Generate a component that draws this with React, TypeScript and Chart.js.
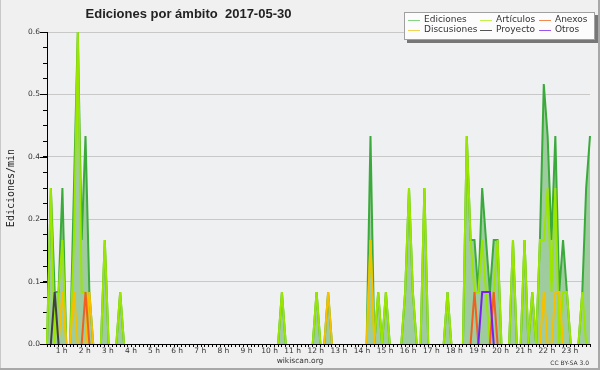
import React, { useEffect, useRef } from "react";
import { Chart, registerables } from "chart.js";

Chart.register(...registerables);

// 10-minute buckets from 00:00 to 23:30
const timeLabels: string[] = Array.from({ length: 142 }, (_, i) =>
  `${String(Math.floor(i / 6)).padStart(2, "0")}:${String((i % 6) * 10).padStart(2, "0")}`
);

const hourTickLabels = [
  "1 h", "2 h", "3 h", "4 h", "5 h", "6 h", "7 h", "8 h", "9 h", "10 h", "11 h", "12 h",
  "13 h", "14 h", "15 h", "16 h", "17 h", "18 h", "19 h", "20 h", "21 h", "22 h", "23 h",
];

const yTickValues = [
  0, 0.03, 0.06, 0.09, 0.12, 0.15, 0.18, 0.21, 0.24, 0.27, 0.3,
  0.33, 0.36, 0.39, 0.42, 0.45, 0.48, 0.51, 0.54, 0.57, 0.6,
];
const yTickLabels = ["0.0", "0.1", "0.2", "0.4", "0.5", "0.6"];

// Ediciones (total), edits/min per 10-minute bucket
const ediciones = [
  0, 0.3, 0.1, 0.1, 0.3, 0, 0, 0.3, 0.6, 0.2,
  0.4, 0.1, 0, 0, 0, 0.2, 0, 0, 0, 0.1,
  0, 0, 0, 0, 0, 0, 0, 0, 0, 0,
  0, 0, 0, 0, 0, 0, 0, 0, 0, 0,
  0, 0, 0, 0, 0, 0, 0, 0, 0, 0,
  0, 0, 0, 0, 0, 0, 0, 0, 0, 0,
  0, 0.1, 0, 0, 0, 0, 0, 0, 0, 0,
  0.1, 0, 0, 0.1, 0, 0, 0, 0, 0, 0,
  0, 0, 0, 0, 0.4, 0, 0.1, 0, 0.1, 0,
  0, 0, 0, 0.1, 0.3, 0.1, 0, 0, 0.3, 0,
  0, 0, 0, 0, 0.1, 0, 0, 0, 0, 0.4,
  0.2, 0.2, 0.1, 0.3, 0.2, 0.1, 0.2, 0.2, 0, 0,
  0, 0.2, 0, 0, 0.2, 0, 0.1, 0, 0.2, 0.5,
  0.4, 0.2, 0.4, 0.1, 0.2, 0.1, 0, 0, 0, 0.1,
  0.3, 0.4,
];

const articulos = [
  0, 0.3, 0, 0.1, 0.2, 0, 0, 0.2, 0.6, 0.1,
  0.1, 0, 0, 0, 0, 0.2, 0, 0, 0, 0.1,
  0, 0, 0, 0, 0, 0, 0, 0, 0, 0,
  0, 0, 0, 0, 0, 0, 0, 0, 0, 0,
  0, 0, 0, 0, 0, 0, 0, 0, 0, 0,
  0, 0, 0, 0, 0, 0, 0, 0, 0, 0,
  0, 0.1, 0, 0, 0, 0, 0, 0, 0, 0,
  0.1, 0, 0, 0, 0, 0, 0, 0, 0, 0,
  0, 0, 0, 0, 0.2, 0, 0.1, 0, 0.1, 0,
  0, 0, 0, 0.1, 0.3, 0.1, 0, 0, 0.3, 0,
  0, 0, 0, 0, 0.1, 0, 0, 0, 0, 0.4,
  0.2, 0.1, 0.1, 0.2, 0.1, 0, 0.1, 0.2, 0, 0,
  0, 0.2, 0, 0, 0.2, 0, 0.1, 0, 0.2, 0.2,
  0.3, 0.1, 0.3, 0, 0.1, 0.1, 0, 0, 0, 0.1,
  0, 0,
];

// sparse series: [bucket index, value]
const anexosPoints: [number, number][] = [[10, 0.1], [111, 0.1], [116, 0.1]];
const discusionesPoints: [number, number][] = [
  [4, 0.1], [7, 0.1], [11, 0.1], [73, 0.1], [84, 0.2], [129, 0.1], [132, 0.1], [133, 0.1],
];
const proyectoPoints: [number, number][] = [[2, 0.1]];
const otrosPoints: [number, number][] = [[113, 0.1], [114, 0.1], [115, 0.1]];

const expand = (pts: [number, number][]) => {
  const arr = timeLabels.map(() => 0);
  pts.forEach(([i, v]) => { arr[i] = v; });
  return arr;
};

const legendItems = [
  { label: "Ediciones", color: "#86d486", x: 408, y: 19.5 },
  { label: "Artículos", color: "#c6f04a", x: 480, y: 19.5 },
  { label: "Anexos", color: "#f08a50", x: 539, y: 19.5 },
  { label: "Discusiones", color: "#f2d454", x: 408, y: 29.5 },
  { label: "Proyecto", color: "#555555", x: 480, y: 29.5 },
  { label: "Otros", color: "#9a55f0", x: 539, y: 29.5 },
];

const hideFlat = {
  borderColor: (ctx: any) =>
    ctx.p0.parsed.y === 0 && ctx.p1.parsed.y === 0 ? "rgba(0,0,0,0)" : undefined,
};

const bgPlugin = {
  id: "plotBg",
  beforeDraw(chart: any) {
    const { ctx, chartArea: a } = chart;
    ctx.save();
    ctx.fillStyle = "#eef0f2";
    ctx.fillRect(a.left, a.top, a.right - a.left, a.bottom - a.top);
    ctx.restore();
  },
  afterDraw(chart: any) {
    const y = chart.scales.y;
    const ctx = chart.ctx;
    const left = chart.chartArea.left;
    ctx.save();
    ctx.strokeStyle = "#000";
    ctx.lineWidth = 1;
    yTickValues.forEach((v, i) => {
      if (i % 4 !== 0) return;
      const py = Math.round(y.getPixelForValue(v)) + 0.5;
      ctx.beginPath();
      ctx.moveTo(left - 7, py);
      ctx.lineTo(left, py);
      ctx.stroke();
    });
    ctx.restore();
  },
};

export default function App() {
  const ref = useRef<HTMLCanvasElement>(null);

  useEffect(() => {
    if (!ref.current) return;
    const mk = (label: string, data: number[], color: string, order: number, width: number, extra: any = {}) => ({
      label, data, borderColor: color, borderWidth: width, order, pointRadius: 0,
      tension: 0, fill: false, segment: hideFlat, ...extra,
    });
    const chart = new Chart(ref.current, {
      type: "line",
      data: {
        labels: timeLabels,
        datasets: [
          mk("Ediciones", ediciones, "#3aaa3a", 6, 2, { fill: "origin", backgroundColor: "#9fcc9f" }),
          mk("Artículos", articulos, "#9be600", 5, 2),
          mk("Discusiones", expand(discusionesPoints), "#f4c000", 4, 2),
          mk("Anexos", expand(anexosPoints), "#f06020", 3, 2),
          mk("Proyecto", expand(proyectoPoints), "#404040", 2, 2),
          mk("Otros", expand(otrosPoints), "#7a1ff0", 1, 2),
        ] as any,
      },
      options: {
        animation: false,
        responsive: false,
        layout: { padding: { top: 32, right: 10, left: 0, bottom: 0 } },
        plugins: { legend: { display: false }, tooltip: { enabled: false }, title: { display: false } },
        scales: {
          x: {
            type: "category",
            offset: false,
            grid: { drawOnChartArea: false, tickLength: 3, tickColor: "#000" },
            border: { color: "#000", width: 1 },
            ticks: {
              autoSkip: false, maxRotation: 0, minRotation: 0, labelOffset: -8.5, padding: 0,
              color: "#333", font: { family: "DejaVu Sans", size: 7.5 },
              callback: (_v: any, i: number) => (i % 6 === 0 && i > 0 ? hourTickLabels[i / 6 - 1] : ""),
            },
            afterFit: (s: any) => { s.height = 26; },
          },
          y: {
            type: "linear", min: 0, max: 0.6,
            afterBuildTicks: (s: any) => { s.ticks = yTickValues.map((v) => ({ value: v })); },
            grid: {
              color: (ctx: any) => (ctx.index % 4 === 0 && ctx.index > 0 ? "#c8c8c8" : "rgba(0,0,0,0)"),
              tickColor: "#000", tickLength: 4,
            },
            border: { color: "#000", width: 1 },
            ticks: {
              autoSkip: false, padding: 3, color: "#333", font: { family: "DejaVu Sans", size: 7.5 },
              callback: (_v: any, i: number) => (i % 4 === 0 ? yTickLabels[i / 4] : ""),
            },
            afterFit: (s: any) => { s.width = 47; },
          },
        },
      } as any,
      plugins: [bgPlugin],
    });
    return () => chart.destroy();
  }, []);

  return (
    <div style={{ position: "fixed", left: 0, top: 0, width: 600, height: 370, background: "#f0f0f0", overflow: "hidden" }}>
      <canvas ref={ref} width={600} height={370} style={{ position: "absolute", left: 0, top: 0, width: 600, height: 370 }} />
      <div style={{ position: "absolute", left: 0, top: 7, width: 377, textAlign: "center", font: "bold 13px 'Liberation Sans', Arial, sans-serif", lineHeight: "13px", color: "#222", whiteSpace: "pre" }}>
        {"Ediciones por ámbito  2017-05-30"}
      </div>
      <div style={{ position: "absolute", left: 10, top: 188, transform: "translate(-50%, -50%) rotate(-90deg)", font: "10px 'DejaVu Sans Mono', monospace", color: "#222", whiteSpace: "nowrap" }}>
        Ediciones/min
      </div>
      <div style={{ position: "absolute", left: 404, top: 12, width: 189, height: 26, background: "#fcfcfc", border: "1px solid #a0a0a0", boxShadow: "3px 3px 0 #777" }} />
      {legendItems.map((it) => (
        <React.Fragment key={it.label}>
          <div style={{ position: "absolute", left: it.x, top: Math.round(it.y), width: 12, height: 1, background: it.color }} />
          <div style={{ position: "absolute", left: it.x + 16, top: it.y - 6, font: "9px 'DejaVu Sans', sans-serif", lineHeight: "11px", color: "#333", whiteSpace: "nowrap" }}>
            {it.label}
          </div>
        </React.Fragment>
      ))}
      <div style={{ position: "absolute", left: 200, top: 356, width: 200, textAlign: "center", font: "7.5px 'DejaVu Sans', sans-serif", lineHeight: "10px", color: "#333" }}>
        wikiscan.org
      </div>
      <div style={{ position: "absolute", right: 11, top: 358, font: "6px 'DejaVu Sans', sans-serif", lineHeight: "9px", color: "#333" }}>
        CC BY-SA 3.0
      </div>
      <div style={{ position: "absolute", left: 0, top: 0, width: 1, height: 370, background: "#c8c8c8" }} />
      <div style={{ position: "absolute", right: 0, top: 0, width: 2, height: 370, background: "#a8a8a8" }} />
      <div style={{ position: "absolute", left: 0, bottom: 0, width: 600, height: 2, background: "#a8a8a8" }} />
    </div>
  );
}
